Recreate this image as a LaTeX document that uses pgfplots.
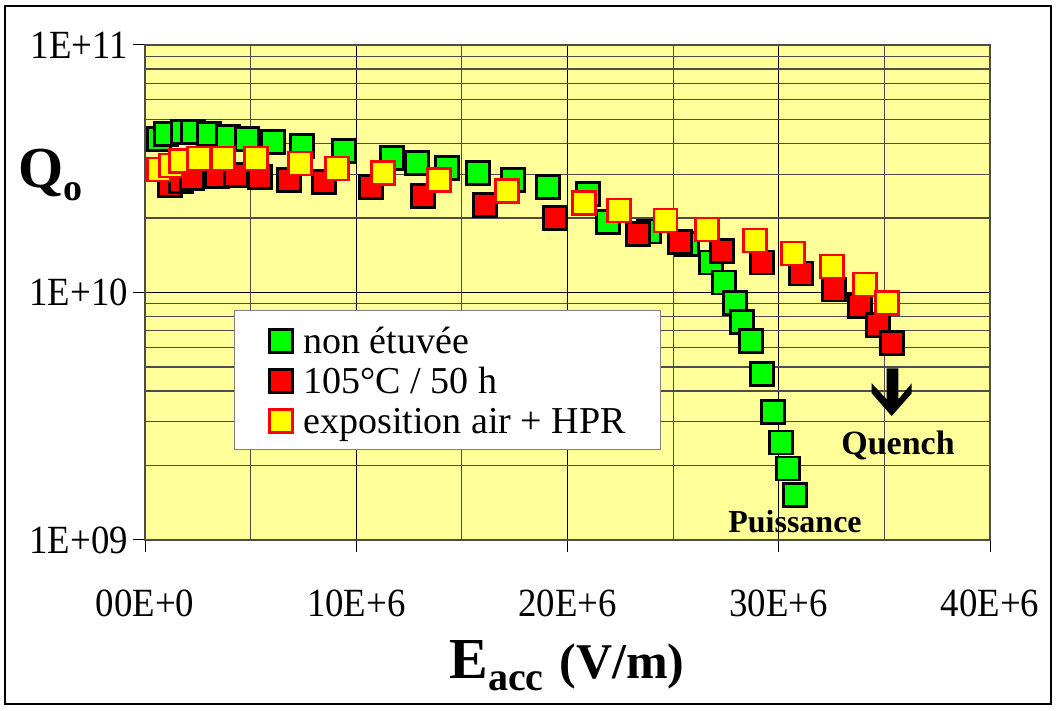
\documentclass[border=0pt]{standalone}
\usepackage{pgfplots}
\pgfplotsset{compat=1.18}
\usepackage{fontspec}
\setmainfont{Liberation Serif}
\newfontfamily\tickfont{Liberation Serif}[FakeStretch=0.92]
\definecolor{plotbg}{HTML}{FFFF99}
\definecolor{xlgreen}{HTML}{00FF00}
\definecolor{xlred}{HTML}{FF0000}
\definecolor{xlyellow}{HTML}{FFFF00}

% Q0 versus accelerating field, three cavity treatments
\pgfplotstableread{
x      q
0.66   4.17e10
0.99   4.37e10
1.80   4.45e10
2.27   4.45e10
3.03   4.37e10
3.93   4.25e10
4.83   4.17e10
6.06   4.06e10
7.43   3.91e10
9.42   3.73e10
11.69  3.49e10
12.88  3.33e10
14.30  3.18e10
15.76  3.04e10
17.42  2.85e10
19.08  2.67e10
20.97  2.50e10
21.92  1.93e10
23.86  1.76e10
25.66  1.57e10
26.79  1.32e10
27.41  1.10e10
27.93  9.07e9
28.26  7.60e9
28.69  6.37e9
29.21  4.69e9
29.73  3.29e9
30.11  2.47e9
30.44  1.94e9
30.77  1.52e9
}\nonetuvee

\pgfplotstableread{
x      q
1.18   2.72e10
1.70   2.82e10
2.22   2.90e10
3.41   2.96e10
4.31   2.98e10
5.44   2.93e10
6.82   2.85e10
8.47   2.80e10
10.70  2.67e10
13.16  2.45e10
16.09  2.26e10
19.41  2.00e10
23.34  1.72e10
25.33  1.60e10
27.31  1.47e10
29.21  1.32e10
31.05  1.19e10
32.62  1.03e10
33.85  8.82e9
34.70  7.39e9
35.36  6.25e9
}\etuvee

\pgfplotstableread{
x      q
0.66   3.13e10
1.23   3.27e10
1.70   3.40e10
2.56   3.49e10
3.69   3.49e10
5.25   3.49e10
7.34   3.33e10
9.09   3.18e10
11.27  3.04e10
13.92  2.85e10
17.14  2.57e10
20.78  2.30e10
22.44  2.15e10
24.62  1.96e10
26.60  1.79e10
28.88  1.62e10
30.67  1.44e10
32.52  1.27e10
34.08  1.08e10
35.12  9.07e9
}\hpr

\begin{document}
\begin{tikzpicture}[x=1pt,y=1pt]
\useasboundingbox (0,0) rectangle (1057,710);
\draw[line width=1.5pt] (5,6) rectangle (1051,704);
\begin{axis}[
  at={(145pt,170pt)}, anchor=south west,
  scale only axis, width=845pt, height=495pt,
  xmin=0, xmax=40, ymode=log, ymin=1e9, ymax=1e11,
  axis background/.style={fill=plotbg},
  xtick={0,10,20,30,40}, minor xtick={5,15,25,35},
  xticklabels={00E+0,10E+6,20E+6,30E+6,40E+6},
  ytick={1e9,1e10,1e11}, yticklabels={1E+09,1E+10,1E+11},
  xtick pos=bottom, ytick pos=left,
  grid=both,
  major grid style={black, line width=1.2pt},
  minor grid style={black!70, line width=1.1pt},
  tick align=outside, major tick length=12pt, minor tick length=0pt,
  tick style={black, line width=1pt},
  axis line style={black!70, line width=1.2pt},
  xticklabel style={font=\tickfont\fontsize{40}{40}\selectfont, inner sep=0pt, anchor=base, yshift=-65pt},
  yticklabel style={font=\tickfont\fontsize{40}{40}\selectfont, inner sep=0pt, anchor=east, xshift=-5pt},
  legend style={at={(rel axis cs:0.1053,0.4646)}, anchor=north west,
    draw=black!50, line width=1pt, fill=white,
    inner xsep=35pt, inner ysep=9.5pt,
    font=\fontsize{38}{40}\selectfont, row sep=0pt,
    nodes={inner sep=0pt, text height=34pt, text depth=6pt},
    /tikz/every odd column/.append style={column sep=11pt}},
  legend cell align=left,
  legend image code/.code={\draw[#1] plot coordinates {(11.5pt,-1pt)};},
]
\addplot[only marks, mark=square*, mark size=11.5pt,
  mark options={fill=xlgreen, draw=black, line width=2.4pt}]
  table[x=x, y=q] {\nonetuvee};
\addlegendentry{non étuvée}
\addplot[only marks, mark=square*, mark size=11.5pt,
  mark options={fill=xlred, draw=black, line width=2.4pt}]
  table[x=x, y=q] {\etuvee};
\addlegendentry{105°C / 50 h}
\addplot[only marks, mark=square*, mark size=11.5pt,
  mark options={fill=xlyellow, draw=xlred, line width=2.2pt}]
  table[x=x, y=q] {\hpr};
\addlegendentry{exposition air + HPR}
\end{axis}

% annotations
\fill (886.7,341.7) -- (898.3,341.7) -- (898.3,310.7) -- (911.7,326.7)
  -- (911.7,316.7) -- (891.7,294) -- (871.7,316.7) -- (871.7,326.7)
  -- (886.7,310.7) -- cycle;
\node[anchor=base, inner sep=0pt, font=\bfseries\fontsize{34}{34}\selectfont] at (898,255) {Quench};
\node[anchor=base, inner sep=0pt, font=\bfseries\fontsize{32}{32}\selectfont] at (795,178) {Puissance};
\node[anchor=base west, inner sep=0pt] at (18,522)
  {\bfseries\fontsize{58}{58}\selectfont Q\raisebox{-13pt}{\fontsize{38}{38}\selectfont o}};
\node[anchor=base, inner sep=0pt] at (567,32)
  {\bfseries\fontsize{58}{58}\selectfont E\raisebox{-12pt}{\fontsize{40}{40}\selectfont acc}\hspace{16pt}\fontsize{50}{50}\selectfont(V/m)};
\end{tikzpicture}
\end{document}
